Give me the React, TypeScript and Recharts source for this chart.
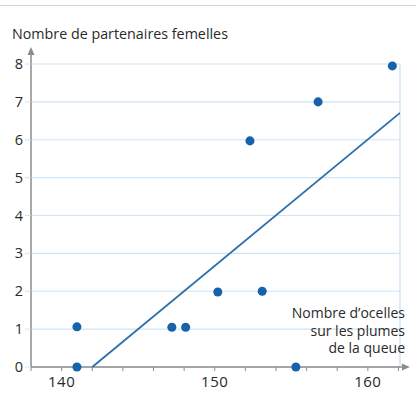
import { ScatterChart, Scatter, XAxis, YAxis, ZAxis, CartesianGrid, ReferenceLine } from 'recharts';

// valeurs
const ocelles = [141, 141, 147.2, 148.1, 150.2, 153.1, 155.3, 152.3, 156.75, 161.6];
const partenaires = [0, 1.06, 1.05, 1.05, 1.98, 2, 0, 5.97, 7, 7.95];
const trendX = [142, 162.1];
const trendY = [0, 6.71];
const xTicks = [138, 140, 142, 144, 146, 148, 150, 152, 154, 156, 158, 160, 162];
const xLabels = [140, 150, 160];
const yTicks = [0, 1, 2, 3, 4, 5, 6, 7, 8];
const yTitle = 'Nombre de partenaires femelles';
const xTitle = ['Nombre d\u2019ocelles', 'sur les plumes', 'de la queue'];

const points = ocelles.map((x, i) => ({ x, y: partenaires[i] }));
const trend = trendX.map((x, i) => ({ x, y: trendY[i] }));

const FONT = '"Open Sans", sans-serif';
const TEXT = '#2a2a2a';
const AXIS = '#8c8c8c';
const GRID = '#cfe4f4';
const BLUE = '#1762aa';

const Arrow = (props: any) => {
  const { x1, y1, x2, y2 } = props;
  const dx = x2 - x1;
  const dy = y2 - y1;
  const len = Math.sqrt(dx * dx + dy * dy) || 1;
  const ux = dx / len;
  const uy = dy / len;
  const bx = x2 - ux * 8;
  const by = y2 - uy * 8;
  return (
    <g>
      <line x1={x1} y1={y1} x2={bx} y2={by} stroke={AXIS} strokeWidth={1.5} />
      <polygon
        points={`${x2},${y2} ${bx - uy * 3.5},${by + ux * 3.5} ${bx + uy * 3.5},${by - ux * 3.5}`}
        fill={AXIS}
      />
    </g>
  );
};

const XTick = ({ x, payload }: any) => (
  <text x={x} y={387} textAnchor="middle" fontSize={15} fill={TEXT} fontFamily={FONT} letterSpacing={0.5}>
    {xLabels.includes(payload.value) ? payload.value : ''}
  </text>
);

const YTick = ({ y, payload }: any) => (
  <text x={23} y={y} dy={5} textAnchor="end" fontSize={14.5} fill={TEXT} fontFamily={FONT}>
    {payload.value}
  </text>
);

export default function App() {
  return (
    <div style={{ position: 'absolute', left: 0, top: 0, width: 416, height: 403, background: '#fff' }}>
      <div style={{ position: 'absolute', left: 0, top: 5, width: 416, borderTop: '1px solid #d4d4d4' }} />
      <ScatterChart width={416} height={403} margin={{ top: 64, right: 16, bottom: 0, left: 0 }}>
        <CartesianGrid vertical={false} stroke={GRID} strokeWidth={1.2} />
        <XAxis
          type="number"
          dataKey="x"
          domain={[138, 162.1]}
          ticks={xTicks}
          tick={<XTick />}
          tickLine={{ stroke: AXIS }}
          tickSize={4}
          axisLine={false}
          height={36}
          allowDataOverflow
          label={{
            content: () => (
              <text textAnchor="end" fontSize={14} fill={TEXT} fontFamily={FONT}>
                {xTitle.map((t, i) => (
                  <tspan key={t} x={405} y={318 + i * 17.5}>
                    {t}
                  </tspan>
                ))}
              </text>
            ),
          }}
        />
        <YAxis
          type="number"
          dataKey="y"
          domain={[0, 8]}
          ticks={yTicks}
          tick={<YTick />}
          tickLine={{ stroke: GRID }}
          tickSize={6}
          axisLine={false}
          width={31}
          label={{
            content: () => (
              <text x={12} y={39} fontSize={14.3} fill={TEXT} fontFamily={FONT}>
                {yTitle}
              </text>
            ),
          }}
        />
        <ZAxis range={[42, 42]} />
        <ReferenceLine x={162.1} stroke={GRID} strokeWidth={1.5} />
        <ReferenceLine
          segment={[{ x: 138, y: 0 }, { x: 138, y: 8.45 }]}
          ifOverflow="visible"
          shape={<Arrow />}
        />
        <ReferenceLine
          segment={[{ x: 138, y: 0 }, { x: 162.75, y: 0 }]}
          ifOverflow="visible"
          shape={<Arrow />}
        />
        <Scatter
          data={trend}
          line={{ stroke: '#2e6fab', strokeWidth: 1.8 }}
          shape={() => <g />}
          isAnimationActive={false}
        />
        <Scatter data={points} fill={BLUE} shape="circle" isAnimationActive={false} />
      </ScatterChart>
    </div>
  );
}
